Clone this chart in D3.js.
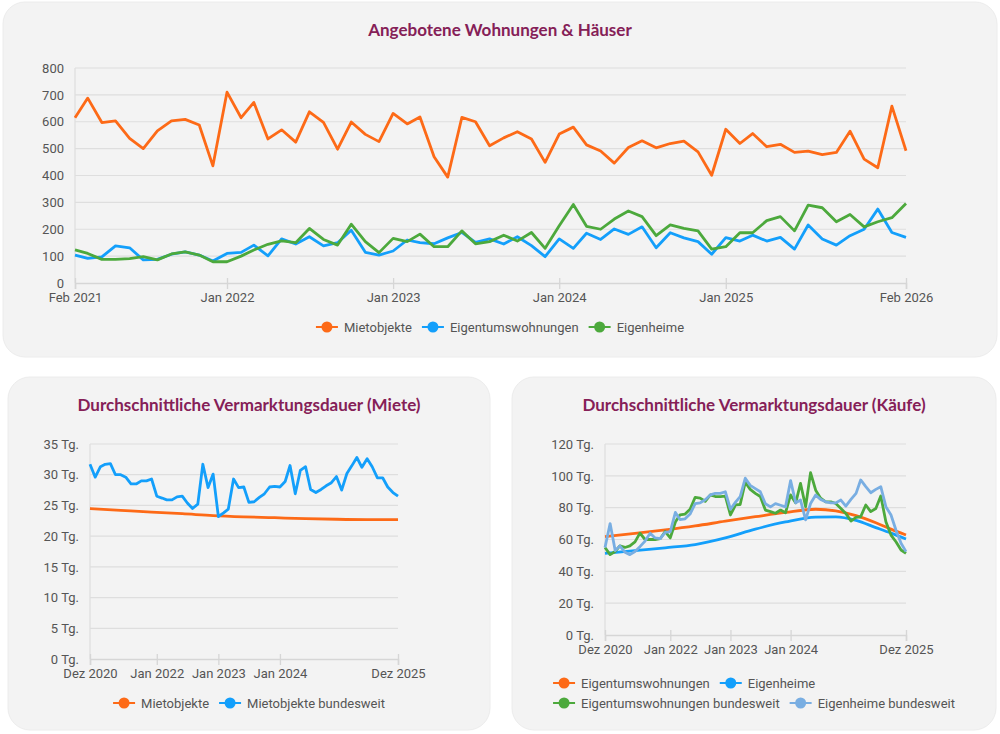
<!DOCTYPE html>
<html>
<head>
<meta charset="utf-8">
<script src="https://cdn.jsdelivr.net/npm/d3@7"></script>
<style>
  body { margin: 0; background: #fff; }
  svg { display: block; }
</style>
</head>
<body>
<svg id="chart" width="1000" height="734"></svg>
<script>
// ---- data: Angebotene Wohnungen & Häuser (monthly, Feb 2021 .. Feb 2026)
const angebotStart = new Date(2021, 1, 1);
const mietobjekte = [615, 688, 597, 603, 538, 500, 566, 603, 609, 588, 436, 710, 615, 672, 536, 570, 524, 637, 598, 498,
  599, 553, 526, 631, 592, 618, 470, 394, 616, 600, 511, 540, 563, 536, 449, 554, 580, 514, 491, 446,
  504, 529, 503, 519, 528, 488, 401, 572, 519, 556, 507, 516, 486, 491, 478, 486, 565, 461, 429, 658, 492];
const eigentumswohnungen = [104, 92, 97, 138, 131, 86, 88, 107, 116, 104, 82, 110, 114, 141, 101, 164, 145, 172, 138, 150,
  196, 114, 104, 119, 160, 150, 146, 168, 188, 151, 164, 145, 172, 139, 98, 164, 129, 185, 162, 201,
  181, 209, 131, 187, 168, 154, 107, 169, 156, 178, 156, 170, 126, 216, 164, 141, 176, 200, 275, 188, 170];
const eigenheime = [123, 110, 88, 88, 91, 98, 86, 108, 116, 104, 79, 79, 100, 123, 144, 157, 150, 203, 162, 141,
  219, 154, 113, 166, 154, 182, 135, 135, 194, 146, 154, 178, 156, 188, 129, 213, 292, 211, 200, 238,
  268, 247, 176, 216, 203, 194, 126, 135, 187, 187, 232, 247, 194, 290, 280, 228, 255, 209, 228, 243, 296];
const angebotTicks = [[2021, 1, "Feb 2021"], [2022, 0, "Jan 2022"], [2023, 0, "Jan 2023"],
  [2024, 0, "Jan 2024"], [2025, 0, "Jan 2025"], [2026, 1, "Feb 2026"]];

// ---- data: Vermarktungsdauer (monthly, Dez 2020 .. Dez 2025)
const dauerStart = new Date(2020, 11, 1);
const dauerTicks = [[2020, 11, "Dez 2020"], [2022, 0, "Jan 2022"], [2023, 0, "Jan 2023"],
  [2024, 0, "Jan 2024"], [2025, 11, "Dez 2025"]];

// Miete
const mieteSmoothMonths = [0, 6, 12, 18, 24, 30, 36, 42, 48, 54, 60];
const mieteObjekte = [24.5, 24.2, 23.9, 23.65, 23.35, 23.15, 23.0, 22.85, 22.75, 22.7, 22.7];
const mieteBundesweit = [31.7, 29.6, 31.3, 31.7, 31.8, 30.0, 30.0, 29.6, 28.5, 28.5, 29.0, 29.0, 29.3, 26.5, 26.2, 25.9,
  25.9, 26.4, 26.5, 25.4, 24.5, 25.2, 31.7, 27.9, 30.1, 23.2, 23.8, 24.4, 29.3, 27.9, 28.0, 25.5,
  25.6, 26.3, 26.9, 28.0, 28.1, 28.0, 28.9, 31.5, 26.9, 30.7, 31.3, 27.6, 27.1, 27.6, 28.2, 28.7,
  29.7, 27.5, 30.2, 31.4, 32.8, 31.2, 32.6, 31.3, 29.5, 29.5, 28.0, 27.1, 26.5];

// Käufe
const kaufSmoothMonths = [0, 6, 12, 18, 24, 30, 36, 42, 46, 50, 54, 57, 60];
const kaufEtw = [61.8, 63.8, 66.0, 68.5, 71.5, 74.3, 77.0, 79.0, 78.0, 75.0, 70.5, 66.5, 62.8];
const kaufEh = [51.3, 53.0, 54.8, 56.8, 61.0, 66.5, 71.0, 74.0, 74.2, 72.0, 67.5, 64.0, 60.3];
const kaufEtwBund = [55, 50.5, 52.5, 56, 55, 56, 58.5, 64, 60, 60, 60, 60.5, 65, 61, 71, 75.5, 76, 79, 86.5, 86, 84,
  88, 87, 87, 87.3, 75.4, 81.7, 82, 96, 91.5, 89, 87, 78.5, 77.5, 76.5, 78.5, 76.8, 88, 83,
  95.3, 80.6, 102, 91, 86, 83.7, 83.7, 82.6, 79.5, 76.4, 71.6, 73.9, 74.3, 81.7, 77.5, 79.5, 87.3, 71.2, 62.8, 58.6, 53.4, 51.3];
const kaufEhBund = [55, 70, 53, 56, 52, 50.5, 52.5, 55.5, 59, 64, 61, 60.5, 64.5, 65, 77, 72.5, 73, 76, 82.5, 83, 85,
  88, 89, 89, 90, 79, 83.5, 87, 98.5, 94, 92, 90, 82.5, 80.5, 82.5, 81.5, 80.5, 97, 83,
  84.8, 72.3, 82.6, 87.9, 85.2, 83.7, 83, 83, 84.8, 81, 85.2, 89, 97.4, 93.2, 89.4, 91.5, 93.2, 80.6, 75.4, 66, 57.6, 52.4];

const ORANGE = "#fd6a17", BLUE = "#139ffb", GREEN = "#4ca93c", LIGHTBLUE = "#79aee2";

const svg = d3.select("#chart");

function monthly(start, values) {
  return values.map((v, i) => ({ date: d3.timeMonth.offset(start, i), value: v }));
}
function knots(start, months, values) {
  return months.map((m, i) => ({ date: d3.timeMonth.offset(start, m), value: values[i] }));
}

function panel(cfg) {
  const g = svg.append("g");
  g.append("rect")
    .attr("x", cfg.card[0]).attr("y", cfg.card[1])
    .attr("width", cfg.card[2]).attr("height", cfg.card[3])
    .attr("rx", 22).attr("fill", "#f3f3f3").attr("stroke", "#ececec");

  g.append("text")
    .attr("x", cfg.card[0] + cfg.card[2] / 2).attr("y", cfg.titleY)
    .attr("text-anchor", "middle")
    .style("font-family", "Lato, sans-serif").style("font-weight", "bold")
    .style("font-size", "17px").attr("fill", "#852057")
    .text(cfg.title);

  const x = d3.scaleTime().domain(cfg.xDomain).range([cfg.plot[0], cfg.plot[1]]);
  const y = d3.scaleLinear().domain(cfg.yDomain).range([cfg.plot[3], cfg.plot[2]]);

  // grid
  g.append("g").selectAll("line").data(cfg.yTicks.slice(1)).enter().append("line")
    .attr("x1", cfg.plot[0]).attr("x2", cfg.plot[1])
    .attr("y1", d => y(d)).attr("y2", d => y(d))
    .attr("stroke", "#dedede").attr("stroke-width", 1.2);
  g.append("line")
    .attr("x1", cfg.plot[0]).attr("x2", cfg.plot[0])
    .attr("y1", cfg.plot[2]).attr("y2", cfg.plot[3])
    .attr("stroke", "#dedede").attr("stroke-width", 1.2);

  // y axis labels
  const yAxis = d3.axisLeft(y).tickValues(cfg.yTicks).tickSize(0).tickPadding(11)
    .tickFormat(d => d + cfg.ySuffix);
  const ya = g.append("g").attr("transform", `translate(${cfg.plot[0]},0)`).call(yAxis);
  ya.select(".domain").remove();

  // x axis
  const tickDates = cfg.xTicks.map(t => new Date(t[0], t[1], 1));
  const xAxis = d3.axisBottom(x).tickValues(tickDates).tickSize(6).tickPadding(4)
    .tickFormat((d, i) => cfg.xTicks[i][2]);
  const xa = g.append("g").attr("transform", `translate(0,${cfg.plot[3]})`).call(xAxis);
  xa.select(".domain").attr("stroke", "#d6d6d6").attr("stroke-width", 1.5);
  xa.selectAll(".tick line").attr("stroke", "#d6d6d6").attr("stroke-width", 1.3).attr("y1", -5);

  [ya, xa].forEach(a => a.selectAll("text")
    .style("font-family", "Roboto, sans-serif").style("font-size", "13px").attr("fill", "#555"));

  // lines
  cfg.series.forEach(s => {
    const line = d3.line().x(d => x(d.date)).y(d => y(d.value))
      .curve(s.smooth ? d3.curveMonotoneX : d3.curveLinear);
    g.append("path").datum(s.data)
      .attr("fill", "none").attr("stroke", s.color).attr("stroke-width", 2.8)
      .attr("stroke-linejoin", "round").attr("d", line);
  });

  // legend (rows, left-aligned, box centered on the card)
  const lg = g.append("g");
  const rows = cfg.legendRows;
  let maxW = 0;
  const items = [];
  rows.forEach((row, r) => {
    let cx = 0;
    row.forEach(idx => {
      const s = cfg.series[idx];
      const it = lg.append("g");
      it.append("line").attr("x1", 0).attr("x2", 22).attr("y1", 0).attr("y2", 0)
        .attr("stroke", s.color).attr("stroke-width", 2);
      it.append("circle").attr("cx", 11).attr("cy", 0).attr("r", 5.5).attr("fill", s.color);
      const t = it.append("text").attr("x", 28).attr("y", 4.5)
        .style("font-family", "Roboto, sans-serif").style("font-size", "13px").attr("fill", "#555")
        .text(s.name);
      const w = 28 + t.node().getComputedTextLength();
      items.push({ it, r, cx });
      cx += w + 10;
    });
    maxW = Math.max(maxW, cx - 10);
  });
  const left = cfg.card[0] + cfg.card[2] / 2 - maxW / 2;
  items.forEach(o => o.it.attr("transform", `translate(${left + o.cx},${cfg.legendY + o.r * 20})`));
}

panel({
  card: [3, 2, 994, 355], titleY: 36, title: "Angebotene Wohnungen & Häuser",
  plot: [75, 906, 68, 283],
  xDomain: [angebotStart, d3.timeMonth.offset(angebotStart, 60)], xTicks: angebotTicks,
  yDomain: [0, 800], yTicks: d3.range(0, 801, 100), ySuffix: "",
  series: [
    { name: "Mietobjekte", color: ORANGE, data: monthly(angebotStart, mietobjekte) },
    { name: "Eigentumswohnungen", color: BLUE, data: monthly(angebotStart, eigentumswohnungen) },
    { name: "Eigenheime", color: GREEN, data: monthly(angebotStart, eigenheime) }
  ],
  legendRows: [[0, 1, 2]], legendY: 327
});

panel({
  card: [8, 377, 482, 353], titleY: 411, title: "Durchschnittliche Vermarktungsdauer (Miete)",
  plot: [90, 398, 444, 659],
  xDomain: [dauerStart, d3.timeMonth.offset(dauerStart, 60)], xTicks: dauerTicks,
  yDomain: [0, 35], yTicks: d3.range(0, 36, 5), ySuffix: " Tg.",
  series: [
    { name: "Mietobjekte", color: ORANGE, smooth: true, data: knots(dauerStart, mieteSmoothMonths, mieteObjekte) },
    { name: "Mietobjekte bundesweit", color: BLUE, data: monthly(dauerStart, mieteBundesweit) }
  ],
  legendRows: [[0, 1]], legendY: 703
});

panel({
  card: [512, 377, 484, 353], titleY: 411, title: "Durchschnittliche Vermarktungsdauer (Käufe)",
  plot: [605, 906, 444, 635],
  xDomain: [dauerStart, d3.timeMonth.offset(dauerStart, 60)], xTicks: dauerTicks,
  yDomain: [0, 120], yTicks: d3.range(0, 121, 20), ySuffix: " Tg.",
  series: [
    { name: "Eigentumswohnungen", color: ORANGE, smooth: true, data: knots(dauerStart, kaufSmoothMonths, kaufEtw) },
    { name: "Eigenheime", color: BLUE, smooth: true, data: knots(dauerStart, kaufSmoothMonths, kaufEh) },
    { name: "Eigentumswohnungen bundesweit", color: GREEN, data: monthly(dauerStart, kaufEtwBund) },
    { name: "Eigenheime bundesweit", color: LIGHTBLUE, data: monthly(dauerStart, kaufEhBund) }
  ],
  legendRows: [[0, 1], [2, 3]], legendY: 683
});
</script>
</body>
</html>
